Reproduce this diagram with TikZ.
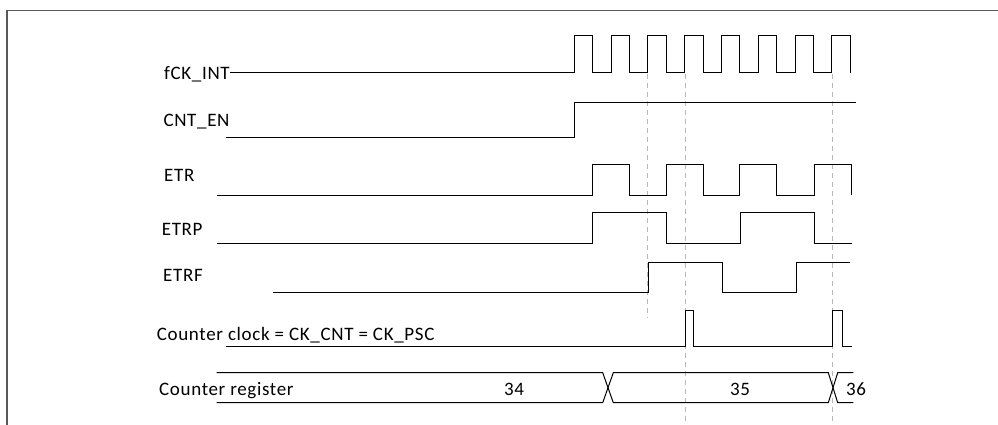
\documentclass[tikz,border=0pt]{standalone}
\usepackage{fontspec}
\setmainfont{Carlito}[LetterSpace=3.5]
\begin{document}
\begin{tikzpicture}[x=1pt,y=-1pt,
  wave/.style={line width=1pt, black, line join=miter},
  lbl/.style={anchor=base west, inner sep=0pt, font=\fontsize{19}{21}\selectfont},
  val/.style={anchor=base, inner sep=0pt, font=\fontsize{19}{21}\selectfont},
  guide/.style={black!28, line width=0.9pt, dash pattern=on 5pt off 4pt},
  frameline/.style={black!65, line width=1.6pt}]
\useasboundingbox (0,0) rectangle (998,425);
\fill[white] (0,0) rectangle (998,425);
% frame
\draw[frameline] (7,425) -- (7,10.5) -- (998,10.5);
% guide lines
\draw[guide] (647.6,74) -- (647.6,318);
\draw[guide] (685,74) -- (685,425);
\draw[guide] (832.5,74) -- (832.5,425);
% labels
\node[lbl] (fck)  at (164,79.3)  {fCK\_INT};
\node[lbl] (cnten) at (163.3,126.7) {CNT\_EN};
\node[lbl] (etr)  at (164,181)   {ETR};
\node[lbl] (etrp) at (161.7,235) {ETRP};
\node[lbl] (etrf) at (163,281.7) {ETRF};
\node[lbl] (cclk) at (156.7,340.7) {Counter clock = CK\_CNT = CK\_PSC};
\node[lbl] (creg) at (159,395)   {Counter register};
\node[val] (v34) at (514,395) {34};
\node[val] (v35) at (740,395) {35};
\node[lbl] (v36) at (846,395) {36};
% fCK_INT
\draw[wave] (230,73) -- (574.3,73) |- (592.7,36) |- (611.1,73) |- (629.5,36) |- (647.9,73)
  |- (666.3,36) |- (684.7,73) |- (703.1,36) |- (721.5,73) |- (739.9,36) |- (758.3,73)
  |- (776.7,36) |- (795.1,73) |- (813.5,36) |- (831.9,73) |- (850.6,36) -- (850.6,73);
% CNT_EN
\draw[wave] (226,137.3) -| (574.3,102.7) -- (856,102.7);
% ETR
\draw[wave] (217.3,195) -| (592.7,164) -| (629.5,195) -| (666.3,164) -| (703.1,195)
  -| (739.9,164) -| (776.7,195) -| (814,164) -| (851.5,195);
% ETRP
\draw[wave] (217.3,243.3) -| (592.7,212.7) -| (666.3,243.3) -| (740.5,212.7) -| (814,243.3) -- (851.7,243.3);
% ETRF
\draw[wave] (272.7,292.3) -| (648.3,262) -| (722,292.3) -| (796,262) -- (850,262);
% Counter clock
\draw[wave] (226,346.7) -| (685.5,310.7) -| (693.3,346.7) -| (832.7,310.7) -| (842.3,346.7) -- (851.7,346.7);
% Counter register bus
\draw[wave] (216.7,372.7) -- (602.7,372.7) -- (613.3,402.7) -- (828.3,402.7) -- (837.7,372.7) -- (853.3,372.7);
\draw[wave] (216.7,402.7) -- (602.7,402.7) -- (613.3,372.7) -- (828.3,372.7) -- (837.7,402.7) -- (853.3,402.7);
\end{tikzpicture}
\end{document}
